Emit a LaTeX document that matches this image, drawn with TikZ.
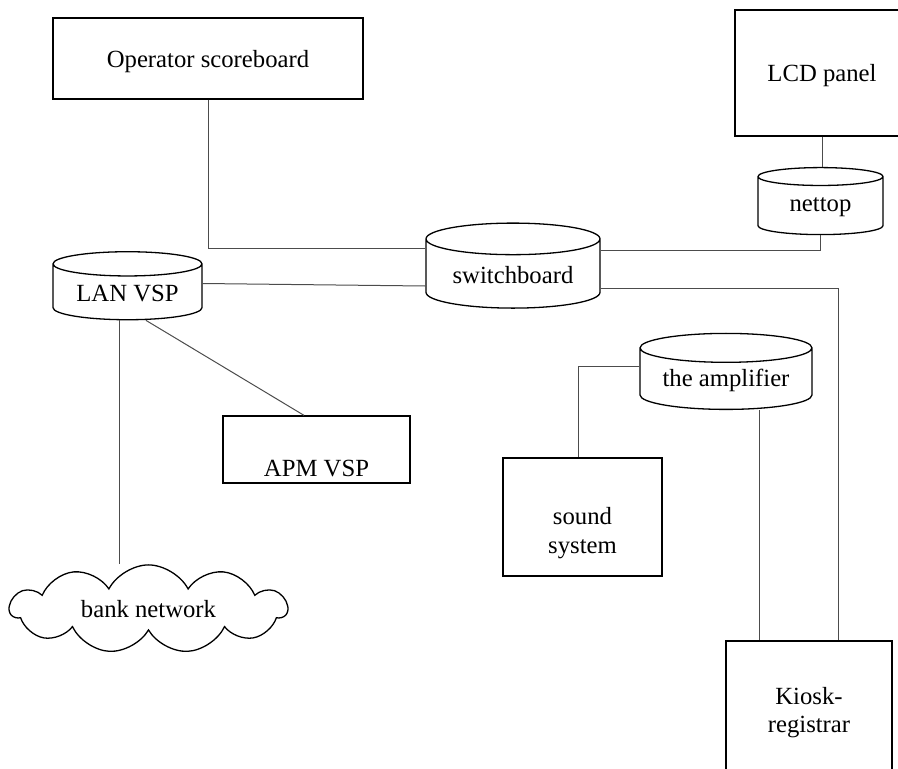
\documentclass[tikz,border=0pt]{standalone}
\usepackage{fontspec}
\setmainfont{Liberation Serif}
\usepackage{tikz}
\usetikzlibrary{shapes.geometric,shapes.symbols}
\tikzstyle{device}=[rectangle,draw=black,line width=1.3pt,inner sep=2pt,align=center,text depth=0pt]
\tikzstyle{store}=[cylinder,shape border rotate=90,aspect=0.25,draw=black,line width=1.3pt,inner sep=2pt]
\tikzstyle{netcloud}=[cloud,cloud puffs=11,cloud puff arc=125,aspect=3.3,draw=black,line width=1.3pt,inner sep=0pt]

\begin{document}
\begin{tikzpicture}[x=1pt,y=-1pt,font=\fontsize{24.7pt}{28.5pt}\selectfont]
    \tikzstyle{link}=[draw=black!70,line width=1pt]
    \useasboundingbox (0,0) rectangle (898,769);
    \clip (0,0) rectangle (898,769);
    % boxes
    \node[device,minimum width=310pt,minimum height=81pt] (oper) at (208,58.5) {Operator scoreboard};
    \node[device,minimum width=174pt,minimum height=126pt] (lcd) at (822,73) {LCD panel};
    \node[device,minimum width=187pt,minimum height=67pt,text height=53pt] (apm) at (316.5,449.5) {APM VSP};
    \node[device,minimum width=159pt,minimum height=118pt] (sound) at (582.5,517) {};
    \node[align=center] (soundtext) at (582.5,533) {sound\\system};
    \node[device,minimum width=166pt,minimum height=138pt] (kiosk) at (809,710) {Kiosk-\\registrar};
    % cylinders (node centre sits below the top lid)
    \node[store,aspect=0.253,minimum width=174pt,minimum height=85pt] (switch) at (513,275.5) {switchboard};
    \node[store,aspect=0.228,minimum width=149pt,minimum height=68pt] (lan) at (127.5,293.5) {LAN VSP};
    \node[store,aspect=0.272,minimum width=125pt,minimum height=67pt] (nettop) at (820.5,207) {nettop};
    \node[store,aspect=0.221,minimum width=172pt,minimum height=76pt] (amp) at (726,380.5) {the amplifier};
    % cloud
    \node[netcloud,minimum width=277pt,minimum height=84pt] (bank) at (148.5,609) {bank network};
    % connections
    \draw[link] (oper.south) |- ([yshift=27.5pt]switch.west);
    \draw[link] ([yshift=10pt]lan.east) -- ([yshift=-10.5pt]switch.west);
    \draw[link] (lcd.south) -- (lcd.south |- nettop.north);
    \draw[link] ([yshift=25.5pt]switch.east) -| (nettop.south);
    \draw[link] ([yshift=-12.5pt]switch.east) -| ([xshift=29pt]kiosk.north);
    \draw[link] ([xshift=-8.5pt]lan.south) -- ([xshift=-8.5pt]lan.south |- bank.north);
    \draw[link] ([xshift=18.5pt]lan.south) -- ([xshift=-12.5pt]apm.north);
    \draw[link] ([yshift=14.5pt]amp.west) -| ([xshift=-4.5pt]sound.north);
    \draw[link] ([xshift=33pt]amp.south) -- ([xshift=33pt]amp.south |- kiosk.north);
\end{tikzpicture}
\end{document}
